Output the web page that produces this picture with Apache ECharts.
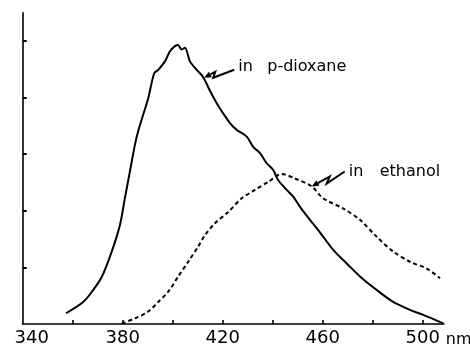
<!DOCTYPE html>
<html>
<head>
<meta charset="utf-8">
<script src="https://cdn.jsdelivr.net/npm/echarts@6/dist/echarts.min.js"></script>
<style>
  html, body { margin: 0; padding: 0; background: #fff; }
  #chart { width: 470px; height: 348px; }
</style>
</head>
<body>
<div id="chart"></div>
<script>
// Emission spectra: wavelength (nm) vs. relative intensity
const xTickValues = [360, 380, 400, 420, 440, 460, 480, 500];
const xLabelValues = [340, 380, 420, 460, 500];
const yTickValues = [1, 2, 3, 4, 5];

const dioxaneNm = [357.3, 364.2, 367.7, 371.6, 375.6, 378.9, 380.9, 382.9, 384.9, 386.2, 388.2, 390.2, 392.6, 394.2, 396.9, 398.9, 400.9, 402.1, 403.6, 404.9, 406.9, 409.6, 412.2, 414.9, 417.6, 420.2, 422.9, 425.6, 429.6, 432.2, 434.9, 437.6, 440.2, 442.2, 445.6, 448.2, 450.9, 454.9, 458.2, 464.2, 469.6, 474.9, 481.6, 488.2, 494.9, 500.2, 508.2];
const dioxaneI  = [0.19, 0.39, 0.57, 0.83, 1.28, 1.75, 2.23, 2.70, 3.17, 3.41, 3.70, 3.99, 4.43, 4.49, 4.64, 4.82, 4.91, 4.93, 4.85, 4.88, 4.64, 4.49, 4.36, 4.12, 3.90, 3.72, 3.55, 3.43, 3.31, 3.13, 3.02, 2.84, 2.72, 2.54, 2.37, 2.25, 2.07, 1.84, 1.66, 1.31, 1.07, 0.84, 0.60, 0.39, 0.25, 0.16, 0.01];

const ethanolNm = [379.6, 384.9, 390.2, 394.2, 398.2, 402.2, 406.2, 410.2, 412.9, 416.9, 422.2, 427.6, 432.9, 438.2, 443.6, 448.9, 455.6, 460.2, 468.2, 474.9, 481.6, 488.2, 494.9, 501.6, 506.9];
const ethanolI  = [0.01, 0.10, 0.22, 0.39, 0.57, 0.84, 1.10, 1.37, 1.57, 1.78, 1.98, 2.22, 2.37, 2.51, 2.65, 2.57, 2.43, 2.22, 2.04, 1.84, 1.54, 1.28, 1.10, 0.98, 0.81];

// Annotations: the arrow tip sits on the curve at [nm, intensity]
const annotations = [
  { at: [412.6, 4.35], word: 'in', name: 'p-dioxane', zig: [[11, -6], [9, 0], [30, -8]], textDx: 34, nameDx: 63, textDy: -11 },
  { at: [455.6, 2.43], word: 'in', name: 'ethanol',   zig: [[18, -10], [15, -3], [33, -15]], textDx: 37, nameDx: 68, textDy: -15 }
];

const FONT = 'DejaVu Sans';
const zip = (xs, ys) => xs.map((x, i) => [x, ys[i]]);

const chart = echarts.init(document.getElementById('chart'), null, { renderer: 'canvas' });

// Squiggle arrow with a filled head, plus its caption
function renderArrow(params, api) {
  const a = annotations[params.dataIndex];
  const tip = api.coord(a.at);
  const zigPts = a.zig.map(p => [tip[0] + p[0], tip[1] + p[1]]);
  const dx = a.zig[0][0], dy = a.zig[0][1];
  const len = Math.sqrt(dx * dx + dy * dy);
  const ux = dx / len, uy = dy / len;
  const px = -uy, py = ux;
  const hl = 7, hw = 3.2;
  const bx = tip[0] + ux * hl, by = tip[1] + uy * hl;
  const head = [
    [tip[0], tip[1]],
    [bx + px * hw, by + py * hw],
    [bx - px * hw, by - py * hw]
  ];
  const ty = tip[1] + a.textDy;
  const font = '16px "' + FONT + '"';
  return {
    type: 'group',
    children: [
      { type: 'polyline', shape: { points: [[bx, by]].concat(zigPts) },
        style: { stroke: '#000', lineWidth: 2, fill: null } },
      { type: 'polygon', shape: { points: head }, style: { fill: '#000' } },
      { type: 'text', style: { text: a.word, x: tip[0] + a.textDx, y: ty, font: font, fill: '#000', align: 'left', verticalAlign: 'middle' } },
      { type: 'text', style: { text: a.name, x: tip[0] + a.nameDx, y: ty, font: font, fill: '#000', align: 'left', verticalAlign: 'middle' } }
    ]
  };
}

chart.setOption({
  animation: false,
  backgroundColor: '#fff',
  grid: { left: 22.7, right: 26, top: 12.7, bottom: 24, containLabel: false, outerBoundsMode: 'none' },
  xAxis: {
    type: 'value',
    min: 340,
    max: 508.5,
    interval: 20,
    splitLine: { show: false },
    axisLine: { lineStyle: { color: '#000', width: 1.6 } },
    axisTick: { inside: true, length: 4, customValues: xTickValues, lineStyle: { color: '#000', width: 1.6 } },
    axisLabel: {
      customValues: xLabelValues,
      margin: 5,
      color: '#000',
      fontFamily: FONT,
      fontSize: 18,
      formatter: v => (v === 340 ? '{first|' + v + '}' : String(v)),
      rich: { first: { padding: [0, 0, 0, 18], fontFamily: FONT, fontSize: 18, color: '#000' } }
    },
    name: 'nm',
    nameLocation: 'end',
    nameGap: 1,
    nameTextStyle: { color: '#000', fontFamily: FONT, fontSize: 16, align: 'left', verticalAlign: 'top', padding: [8, 0, 0, 0] }
  },
  yAxis: {
    type: 'value',
    min: 0,
    max: 5.5,
    interval: 1,
    splitLine: { show: false },
    axisLine: { lineStyle: { color: '#000', width: 1.6 } },
    axisTick: { inside: true, length: 4, customValues: yTickValues, lineStyle: { color: '#000', width: 2 } },
    axisLabel: { show: false }
  },
  series: [
    {
      name: 'in p-dioxane',
      type: 'line',
      data: zip(dioxaneNm, dioxaneI),
      showSymbol: false,
      smooth: 0.3,
      lineStyle: { color: '#000', width: 2 }
    },
    {
      name: 'in ethanol',
      type: 'line',
      data: zip(ethanolNm, ethanolI),
      showSymbol: false,
      smooth: 0.3,
      lineStyle: { color: '#000', width: 2, type: [4, 3] }
    },
    {
      type: 'custom',
      coordinateSystem: 'cartesian2d',
      clip: false,
      silent: true,
      data: annotations.map(a => a.at),
      renderItem: renderArrow
    }
  ]
});
</script>
</body>
</html>
